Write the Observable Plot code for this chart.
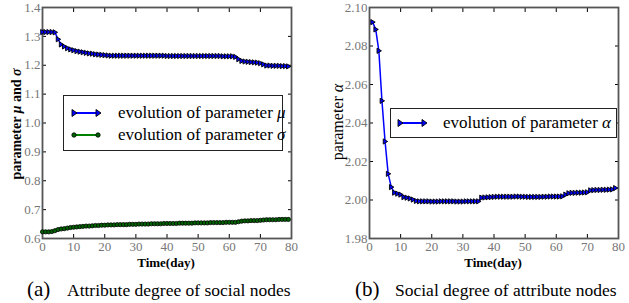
<!DOCTYPE html>
<html><head><meta charset="utf-8">
<script src="https://cdn.jsdelivr.net/npm/d3@7"></script>
<script src="https://cdn.jsdelivr.net/npm/@observablehq/plot@0.6"></script>
<style>
body{margin:0;background:#fff;}
#root{position:relative;width:629px;height:303px;overflow:hidden;font-family:"Liberation Serif",serif;color:#000;}
.panel{position:absolute;top:0;}
.panel text{font-family:"Liberation Serif",serif;}
.abs{position:absolute;white-space:nowrap;}
.ylab{transform:translate(-50%,-50%) rotate(-90deg);}
.xlab{transform:translate(-50%,-50%);font-weight:bold;font-size:13px;line-height:11px;}
.legend{position:absolute;background:#fff;border:1px solid #222;box-sizing:border-box;}
.entry{position:absolute;display:flex;align-items:center;font-size:17px;white-space:nowrap;}
.cap{position:absolute;white-space:nowrap;transform:translateY(-50%);}
</style>
</head><body>
<div id="root"></div>
<script>
// ---- data ----
const xTicks = [0, 10, 20, 30, 40, 50, 60, 70, 80];
const yTicksA = [0.6, 0.7, 0.8, 0.9, 1.0, 1.1, 1.2, 1.3, 1.4];
const yTicksB = [1.98, 2.00, 2.02, 2.04, 2.06, 2.08, 2.10];
const daysA = d3.range(0, 80);
const mu = [1.315,1.315,1.315,1.315,1.314,1.290,1.272,1.265,1.259,1.255,
 1.252,1.249,1.247,1.245,1.243,1.241,1.240,1.238,1.237,1.236,
 1.235,1.234,1.233,1.233,1.233,1.233,1.233,1.233,1.233,1.233,
 1.233,1.233,1.233,1.233,1.233,1.233,1.233,1.233,1.233,1.233,
 1.232,1.232,1.232,1.232,1.232,1.232,1.232,1.232,1.232,1.232,
 1.232,1.232,1.232,1.232,1.232,1.232,1.232,1.232,1.231,1.231,
 1.231,1.231,1.229,1.221,1.215,1.213,1.212,1.211,1.210,1.209,
 1.207,1.203,1.199,1.199,1.198,1.198,1.198,1.197,1.197,1.196];
const sigma = [0.623,0.623,0.623,0.624,0.627,0.631,0.633,0.634,0.636,0.638,
 0.639,0.640,0.641,0.642,0.643,0.643,0.644,0.645,0.645,0.646,
 0.646,0.647,0.647,0.647,0.648,0.648,0.648,0.648,0.649,0.649,
 0.649,0.650,0.650,0.650,0.650,0.651,0.651,0.651,0.651,0.652,
 0.652,0.652,0.652,0.652,0.653,0.653,0.653,0.653,0.653,0.654,
 0.654,0.654,0.654,0.654,0.655,0.655,0.655,0.655,0.655,0.656,
 0.656,0.656,0.656,0.658,0.660,0.661,0.661,0.662,0.662,0.662,
 0.663,0.664,0.665,0.665,0.665,0.665,0.666,0.666,0.666,0.666];
const daysB = d3.range(1, 80);
const alpha = [2.0924,2.0886,2.0775,2.0515,2.0304,2.0136,2.0067,2.0038,2.0033,2.0028,
 2.0015,2.0012,2.0008,2.0002,1.9995,1.9993,1.9993,1.9993,1.9993,1.9992,
 1.9992,1.9992,1.9993,1.9993,1.9993,1.9993,1.9993,1.9992,1.9992,1.9992,
 1.9993,1.9993,1.9993,1.9993,1.9993,2.0012,2.0013,2.0014,2.0015,2.0016,
 2.0017,2.0017,2.0017,2.0017,2.0017,2.0017,2.0018,2.0018,2.0017,2.0017,
 2.0016,2.0016,2.0016,2.0016,2.0016,2.0017,2.0017,2.0018,2.0018,2.0018,
 2.0018,2.0019,2.0028,2.0035,2.0037,2.0037,2.0038,2.0038,2.0039,2.0040,
 2.0050,2.0051,2.0052,2.0052,2.0053,2.0053,2.0054,2.0055,2.0062];

const muData = daysA.map((d, i) => ({day: d, v: mu[i]}));
const sigmaData = daysA.map((d, i) => ({day: d, v: sigma[i]}));
const alphaData = daysB.map((d, i) => ({day: d, v: alpha[i]}));

const BLUE = "#0000ff", GREEN = "#008000", DGREEN = "#006400";
const triRight = {
  draw(ctx, size) {
    const r = Math.sqrt(size / Math.PI);
    ctx.moveTo(r, 0);
    ctx.lineTo(-r * 0.7, -r);
    ctx.lineTo(-r * 0.7, r);
    ctx.closePath();
  }
};

function axes(yTicks, fmt) {
  const common = {stroke: "#000", fill: "#777", label: null, fontSize: 13, fontFamily: "Liberation Serif"};
  return [
    Plot.axisX(xTicks, {...common, anchor: "bottom", tickSize: -4, tickPadding: 7, tickFormat: d => String(d)}),
    Plot.axisX(xTicks, {...common, anchor: "top", tickSize: -4, tickFormat: () => ""}),
    Plot.axisY(yTicks, {...common, anchor: "left", tickSize: -4, tickPadding: 6, tickFormat: fmt}),
    Plot.axisY(yTicks, {...common, anchor: "right", tickSize: -4, tickFormat: () => ""}),
    Plot.frame({stroke: "#555", strokeWidth: 1.8})
  ];
}

const style = "font-family:'Liberation Serif',serif;font-size:13px;background:transparent;overflow:visible;";

const plotA = Plot.plot({
  width: 320, height: 270, marginLeft: 42, marginRight: 29, marginTop: 7, marginBottom: 32,
  x: {domain: [0, 80], label: null}, y: {domain: [0.6, 1.4], label: null},
  style,
  marks: [
    ...axes(yTicksA, d => d.toFixed(1)),
    Plot.line(muData, {x: "day", y: "v", stroke: BLUE, strokeWidth: 1.5}),
    Plot.dot(muData, {x: "day", y: "v", symbol: triRight, r: 2.6, fill: BLUE, stroke: "#000", strokeWidth: 0.9}),
    Plot.line(sigmaData, {x: "day", y: "v", stroke: GREEN, strokeWidth: 1.5}),
    Plot.dot(sigmaData, {x: "day", y: "v", r: 2.1, fill: DGREEN, stroke: "#000", strokeWidth: 0.8})
  ]
});

const plotB = Plot.plot({
  width: 309, height: 270, marginLeft: 49, marginRight: 11, marginTop: 7, marginBottom: 32,
  x: {domain: [0, 80], label: null}, y: {domain: [1.98, 2.10], label: null},
  style,
  marks: [
    ...axes(yTicksB, d => d.toFixed(2)),
    Plot.line(alphaData, {x: "day", y: "v", stroke: BLUE, strokeWidth: 1.5}),
    Plot.dot(alphaData, {x: "day", y: "v", symbol: triRight, r: 2.6, fill: BLUE, stroke: "#000", strokeWidth: 0.9})
  ]
});

const root = document.getElementById("root");
function place(el, left) { el.classList.add("panel"); el.style.left = left + "px"; root.appendChild(el); }
place(plotA, 0);
place(plotB, 320);

function div(cls, html, css) {
  const d = document.createElement("div");
  d.className = cls; d.innerHTML = html; Object.assign(d.style, css); root.appendChild(d); return d;
}
// axis labels
div("abs xlab", "Time(day)", {left: "166px", top: "262px"});
div("abs xlab", "Time(day)", {left: "493px", top: "262px"});
div("abs ylab", "parameter <i>μ</i> and <i>σ</i>", {left: "17px", top: "124px", fontWeight: "bold", fontSize: "14px"});
div("abs ylab", "parameter <i>α</i>", {left: "338px", top: "122px", fontSize: "16px"});

// legends
function sample(color, kind) {
  const mk = kind === "tri"
    ? (x) => `<path d="M${x+3},6 L${x-2},2.5 L${x-2},9.5 Z" fill="${color}" stroke="#000" stroke-width="0.9"/>`
    : (x) => `<circle cx="${x}" cy="6" r="2.2" fill="${DGREEN}" stroke="#000" stroke-width="0.8"/>`;
  return `<svg width="30" height="12" style="overflow:visible"><line x1="2" y1="6" x2="26" y2="6" stroke="${color}" stroke-width="2"/>${mk(2)}${mk(26)}</svg>`;
}
const lgA = div("legend", "", {left: "63px", top: "95px", width: "220px", height: "56px"});
lgA.innerHTML = `<div class="entry" style="left:8px;top:7px">${sample(BLUE, "tri")}<span style="margin-left:16px">evolution of parameter <i>μ</i></span></div>
<div class="entry" style="left:8px;top:29px">${sample(GREEN, "dot")}<span style="margin-left:16px">evolution of parameter <i>σ</i></span></div>`;
const lgB = div("legend", "", {left: "390px", top: "108px", width: "227px", height: "30px"});
lgB.innerHTML = `<div class="entry" style="left:7px;top:4px">${sample(BLUE, "tri")}<span style="margin-left:15px">evolution of parameter <i>α</i></span></div>`;

// captions
div("cap", `<span style="font-size:21px">(a)</span>`, {left: "27px", top: "289px"});
div("cap", `<span style="font-size:17.5px">Attribute degree of social nodes</span>`, {left: "67px", top: "290px"});
div("cap", `<span style="font-size:21px">(b)</span>`, {left: "355px", top: "289px"});
div("cap", `<span style="font-size:17.5px">Social degree of attribute nodes</span>`, {left: "395px", top: "290px"});
</script>
</body></html>
